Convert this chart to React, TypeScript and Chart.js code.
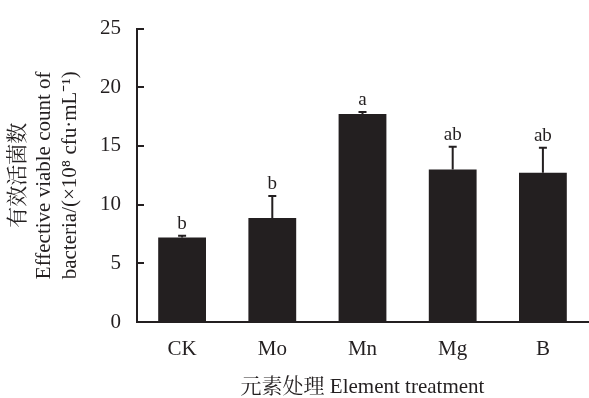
import React, { useEffect, useRef } from "react";
import { Chart, registerables } from "chart.js";

Chart.register(...registerables);

const categories = ["CK", "Mo", "Mn", "Mg", "B"];
const means = [7.2, 8.86, 17.73, 13.0, 12.72];
const errors = [0.15, 1.87, 0.17, 1.93, 2.13];
const letters = ["b", "b", "a", "ab", "ab"];
const yTicks = [0, 5, 10, 15, 20, 25];

const yTitle = ["有效活菌数", "Effective viable count of", "bacteria/(×10⁸ cfu·mL⁻¹)"];
const xTitle = "元素处理 Element treatment";

const INK = "#231f20";
const FONT = "'Liberation Serif', 'Times New Roman', 'Noto Serif CJK SC', 'Noto Sans CJK SC', serif";

const annotatePlugin = {
  id: "annotate",
  afterDatasetsDraw(chart: any) {
    const { ctx, chartArea } = chart;
    const yScale = chart.scales.y;
    const meta = chart.getDatasetMeta(0);
    ctx.save();
    ctx.strokeStyle = INK;
    ctx.fillStyle = INK;
    ctx.lineWidth = 2;
    yTicks.forEach((v) => {
      if (v === 0) return;
      const py = Math.round(yScale.getPixelForValue(v));
      ctx.beginPath();
      ctx.moveTo(chartArea.left, py);
      ctx.lineTo(chartArea.left + 7, py);
      ctx.stroke();
    });
    meta.data.forEach((el: any, i: number) => {
      const x = el.x;
      const yBase = el.y;
      const yTop = yScale.getPixelForValue(means[i] + errors[i]);
      ctx.beginPath();
      ctx.moveTo(x, yBase);
      ctx.lineTo(x, yTop);
      ctx.moveTo(x - 4, yTop);
      ctx.lineTo(x + 4, yTop);
      ctx.stroke();
      ctx.font = `19px ${FONT}`;
      ctx.textAlign = "center";
      ctx.textBaseline = "alphabetic";
      ctx.fillText(letters[i], x, yTop - 7);
    });
    ctx.restore();
  },
};

export default function App() {
  const ref = useRef<HTMLCanvasElement | null>(null);
  useEffect(() => {
    if (!ref.current) return;
    const chart = new Chart(ref.current, {
      type: "bar",
      data: {
        labels: categories,
        datasets: [
          {
            data: means,
            backgroundColor: INK,
            borderWidth: 0,
            barPercentage: 0.53,
            categoryPercentage: 1.0,
          },
        ],
      },
      options: {
        animation: false,
        responsive: false,
        devicePixelRatio: 1,
        layout: { padding: { top: 20, right: 1, left: 0, bottom: 0 } },
        plugins: { legend: { display: false }, tooltip: { enabled: false } },
        scales: {
          x: {
            grid: { display: false, drawTicks: false },
            border: { display: true, color: INK, width: 2 },
            ticks: { color: INK, font: { family: FONT, size: 21 }, padding: 15 },
            title: {
              display: true,
              text: xTitle,
              color: INK,
              font: { family: FONT, size: 21, lineHeight: 1.0 },
              padding: { top: 0, bottom: 0 },
            },
            afterFit(scale: any) {
              scale.height = 76;
            },
          },
          y: {
            min: 0,
            max: 25,
            grid: { display: false, drawTicks: false },
            border: { display: true, color: INK, width: 2 },
            ticks: { stepSize: 5, color: INK, font: { family: FONT, size: 21 }, padding: 16 },
            title: {
              display: true,
              text: yTitle,
              color: INK,
              font: { family: FONT, size: 21, lineHeight: 1.25 },
              padding: { top: 5, bottom: 0 },
            },
            afterFit(scale: any) {
              scale.width = 137;
            },
          },
        },
      },
      plugins: [annotatePlugin],
    });
    return () => chart.destroy();
  }, []);
  return (
    <div style={{ position: "absolute", left: 0, top: 0, width: 589, height: 398, background: "#fff" }}>
      <canvas ref={ref} width={589} height={398} />
    </div>
  );
}
